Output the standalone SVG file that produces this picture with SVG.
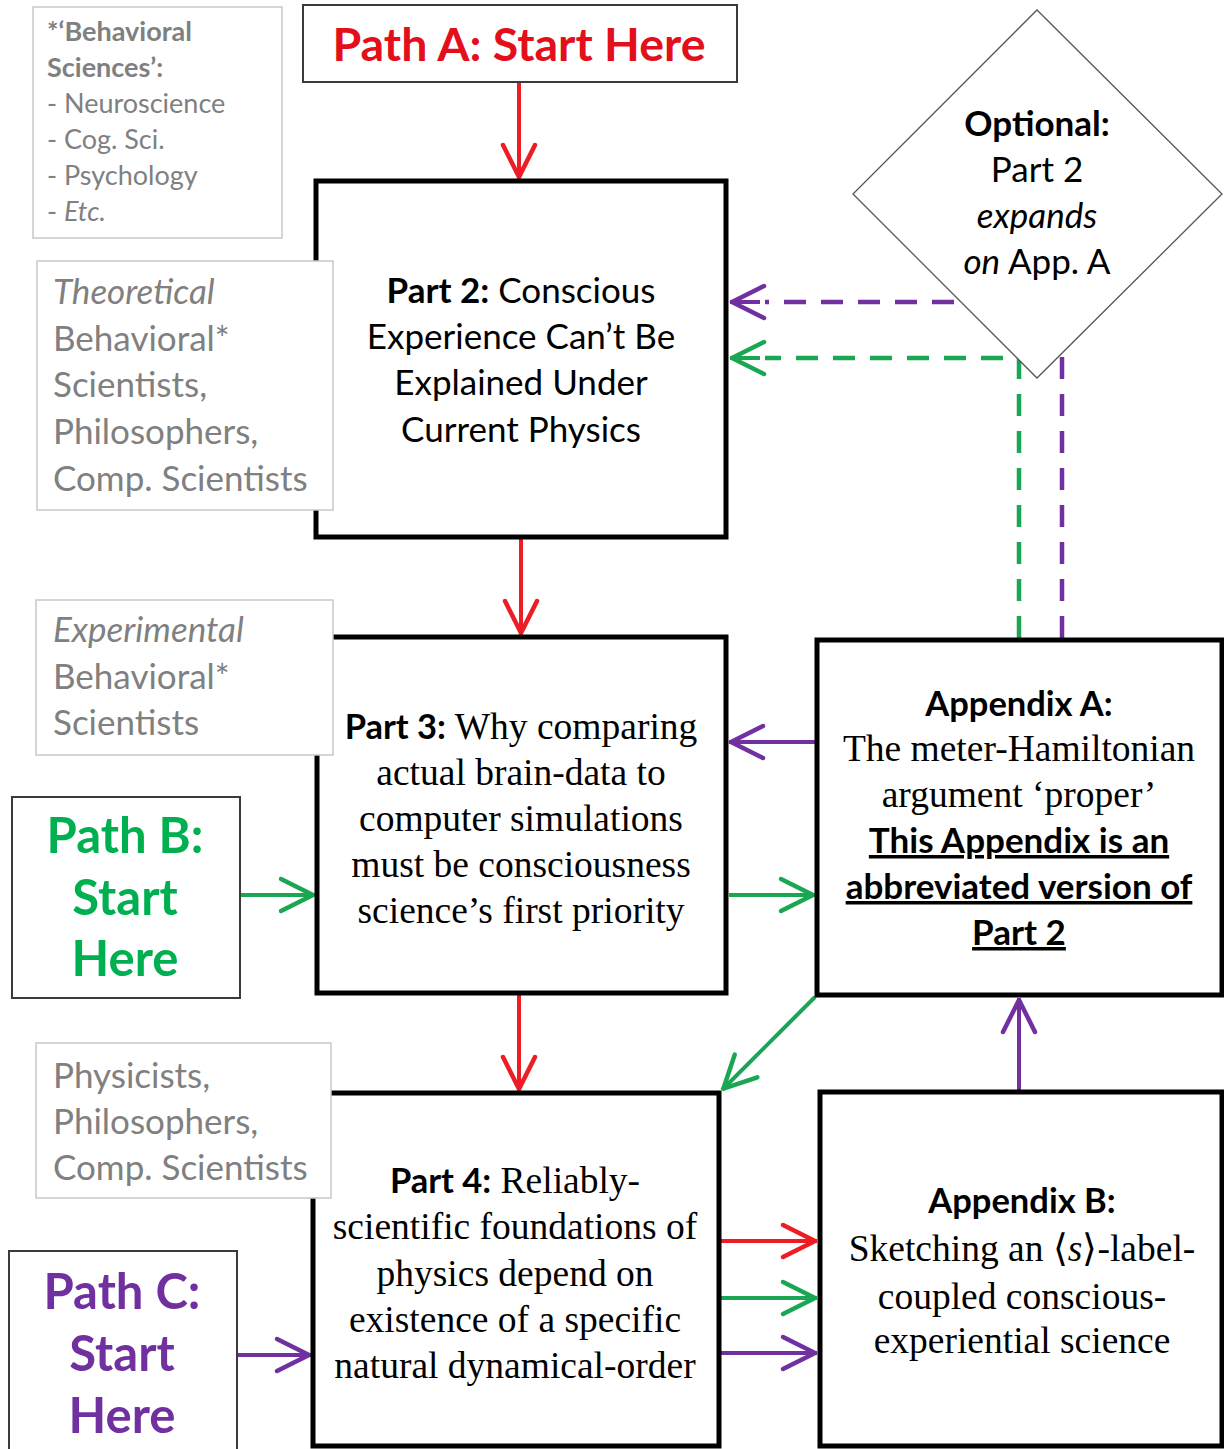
<svg xmlns="http://www.w3.org/2000/svg" width="1224" height="1449" viewBox="0 0 1224 1449">
<style>
.main{fill:#fff;stroke:#000;stroke-width:5}
.grey{fill:#fff;stroke:#c8c8c8;stroke-width:1.5}
.path{fill:#fff;stroke:#3a3a3a;stroke-width:2}
.cal{font-family:Lato,"Open Sans","Noto Sans",sans-serif}
.tms{font-family:"Liberation Serif","Times New Roman",serif}
.gt{fill:#808080;font-size:35px}
.bt{fill:#000;font-size:35px}
.ser{fill:#000;font-size:37.5px}
.hd{font-weight:bold;font-size:34.5px}
.b{font-weight:bold}
.i{font-style:italic}
.mid{text-anchor:middle}
.solid{fill:none;stroke-width:4}
.dash{fill:none;stroke-width:4.5;stroke-dasharray:22 15}
</style>
<defs>
<marker id="mr" viewBox="0 0 42 40" refX="39" refY="20" markerWidth="42" markerHeight="40" markerUnits="userSpaceOnUse" orient="auto"><path d="M5,4 L37,20 L5,36" fill="none" stroke="#ee1c25" stroke-width="4.5" stroke-linecap="round" stroke-linejoin="round"/></marker>
<marker id="mg" viewBox="0 0 42 40" refX="39" refY="20" markerWidth="42" markerHeight="40" markerUnits="userSpaceOnUse" orient="auto"><path d="M5,4 L37,20 L5,36" fill="none" stroke="#1aa653" stroke-width="4.5" stroke-linecap="round" stroke-linejoin="round"/></marker>
<marker id="mp" viewBox="0 0 42 40" refX="39" refY="20" markerWidth="42" markerHeight="40" markerUnits="userSpaceOnUse" orient="auto"><path d="M5,4 L37,20 L5,36" fill="none" stroke="#7030a0" stroke-width="4.5" stroke-linecap="round" stroke-linejoin="round"/></marker>
</defs>
<rect width="1224" height="1449" fill="#fff"/>

<g id="connectors">
<line class="solid" x1="519" y1="82" x2="519" y2="179" stroke="#ee1c25" marker-end="url(#mr)"/>
<line class="solid" x1="521" y1="538" x2="521" y2="635" stroke="#ee1c25" marker-end="url(#mr)"/>
<line class="solid" x1="519" y1="994" x2="519" y2="1091" stroke="#ee1c25" marker-end="url(#mr)"/>
<line class="solid" x1="240" y1="895" x2="315" y2="895" stroke="#1aa653" marker-end="url(#mg)"/>
<line class="solid" x1="237" y1="1355" x2="311" y2="1355" stroke="#7030a0" marker-end="url(#mp)"/>
<line class="solid" x1="815" y1="742" x2="729" y2="742" stroke="#7030a0" marker-end="url(#mp)"/>
<line class="solid" x1="729" y1="895" x2="815" y2="895" stroke="#1aa653" marker-end="url(#mg)"/>
<line class="solid" x1="815" y1="997" x2="722" y2="1090" stroke="#1aa653" marker-end="url(#mg)"/>
<line class="solid" x1="1019" y1="1090" x2="1019" y2="998" stroke="#7030a0" marker-end="url(#mp)"/>
<line class="solid" x1="721" y1="1241" x2="817" y2="1241" stroke="#ee1c25" marker-end="url(#mr)"/>
<line class="solid" x1="721" y1="1298" x2="817" y2="1298" stroke="#1aa653" marker-end="url(#mg)"/>
<line class="solid" x1="721" y1="1353" x2="817" y2="1353" stroke="#7030a0" marker-end="url(#mp)"/>
<polyline class="dash" points="1062,638 1062,302 765,302" stroke="#7030a0"/>
<polyline class="dash" points="1019,638 1019,358 765,358" stroke="#1aa653"/>
<line class="solid" x1="760" y1="302" x2="730" y2="302" stroke="#7030a0" marker-end="url(#mp)"/>
<line class="solid" x1="760" y1="358" x2="730" y2="358" stroke="#1aa653" marker-end="url(#mg)"/>
</g>

<g id="legend">
<rect class="grey" x="33" y="7" width="249" height="231"/>
<text class="cal" fill="#808080" font-size="27"><tspan x="47" y="41" font-weight="bold">*‘Behavioral</tspan><tspan x="47" y="77" font-weight="bold">Sciences’:</tspan><tspan x="47" y="113">- Neuroscience</tspan><tspan x="47" y="149">- Cog. Sci.</tspan><tspan x="47" y="185">- Psychology</tspan><tspan x="47" y="221">- <tspan font-style="italic">Etc.</tspan></tspan></text>
</g>

<g id="pathA">
<rect class="path" x="303" y="5" width="434" height="77"/>
<text class="cal b mid" x="519" y="61" fill="#e3101c" font-size="46.5">Path A: Start Here</text>
</g>

<g id="part2">
<rect class="main" x="316" y="181" width="410" height="356"/>
<text class="cal bt mid"><tspan x="521" y="303"><tspan font-weight="bold">Part 2:</tspan> Conscious</tspan><tspan x="521" y="349">Experience Can’t Be</tspan><tspan x="521" y="395">Explained Under</tspan><tspan x="521" y="442">Current Physics</tspan></text>
</g>

<g id="theoretical">
<rect class="grey" x="37" y="261" width="296" height="249"/>
<text class="cal gt"><tspan x="53" y="304" font-style="italic">Theoretical</tspan><tspan x="53" y="351">Behavioral*</tspan><tspan x="53" y="397">Scientists,</tspan><tspan x="53" y="444">Philosophers,</tspan><tspan x="53" y="491">Comp. Scientists</tspan></text>
</g>

<g id="part3">
<rect class="main" x="317" y="637" width="409" height="356"/>
<text class="tms ser mid"><tspan x="521" y="739"><tspan class="cal hd">Part 3:</tspan> Why comparing</tspan><tspan x="521" y="785">actual brain-data to</tspan><tspan x="521" y="831">computer simulations</tspan><tspan x="521" y="877">must be consciousness</tspan><tspan x="521" y="923">science’s first priority</tspan></text>
</g>

<g id="experimental">
<rect class="grey" x="36" y="600" width="297" height="155"/>
<text class="cal gt"><tspan x="53" y="642" font-style="italic">Experimental</tspan><tspan x="53" y="689">Behavioral*</tspan><tspan x="53" y="735">Scientists</tspan></text>
</g>

<g id="pathB">
<rect class="path" x="12" y="797" width="228" height="201"/>
<text class="cal b mid" fill="#00b050" font-size="49"><tspan x="125" y="853">Path B:</tspan><tspan x="125" y="915">Start</tspan><tspan x="125" y="976">Here</tspan></text>
</g>

<g id="appendixA">
<rect class="main" x="817" y="640" width="405" height="355"/>
<text class="tms ser mid"><tspan x="1019" y="716" class="cal hd">Appendix A:</tspan><tspan x="1019" y="761">The meter-Hamiltonian</tspan><tspan x="1019" y="807">argument ‘proper’</tspan></text>
<text class="cal bt b mid" text-decoration="underline" font-size="35.5"><tspan x="1019" y="853">This Appendix is an</tspan><tspan x="1019" y="899">abbreviated version of</tspan><tspan x="1019" y="945">Part 2</tspan></text>
</g>

<g id="optional">
<polygon points="1037,10 1222,194 1037,378 853,194" fill="#fff" stroke="#555" stroke-width="1.3"/>
<text class="cal bt mid" font-size="34.5"><tspan x="1037" y="136" font-weight="bold">Optional:</tspan><tspan x="1037" y="182">Part 2</tspan><tspan x="1037" y="228" font-style="italic">expands</tspan><tspan x="1037" y="274"><tspan font-style="italic">on</tspan> App. A</tspan></text>
</g>

<g id="part4">
<rect class="main" x="313" y="1093" width="406" height="353"/>
<text class="tms ser mid"><tspan x="515" y="1193"><tspan class="cal hd">Part 4:</tspan> Reliably-</tspan><tspan x="515" y="1239">scientific foundations of</tspan><tspan x="515" y="1286">physics depend on</tspan><tspan x="515" y="1332">existence of a specific</tspan><tspan x="515" y="1378">natural dynamical-order</tspan></text>
</g>

<g id="physicists">
<rect class="grey" x="36" y="1043" width="295" height="155"/>
<text class="cal gt"><tspan x="53" y="1088">Physicists,</tspan><tspan x="53" y="1134">Philosophers,</tspan><tspan x="53" y="1180">Comp. Scientists</tspan></text>
</g>

<g id="pathC">
<rect class="path" x="9" y="1251" width="228" height="202"/>
<text class="cal b mid" fill="#7030a0" font-size="49"><tspan x="122" y="1309">Path C:</tspan><tspan x="122" y="1371">Start</tspan><tspan x="122" y="1433">Here</tspan></text>
</g>

<g id="appendixB">
<rect class="main" x="820" y="1092" width="402" height="354"/>
<text class="tms ser mid"><tspan x="1022" y="1213" class="cal hd">Appendix B:</tspan><tspan x="1022" y="1261">Sketching an ⟨<tspan font-style="italic">s</tspan>⟩-label-</tspan><tspan x="1022" y="1309">coupled conscious-</tspan><tspan x="1022" y="1353">experiential science</tspan></text>
</g>
</svg>
